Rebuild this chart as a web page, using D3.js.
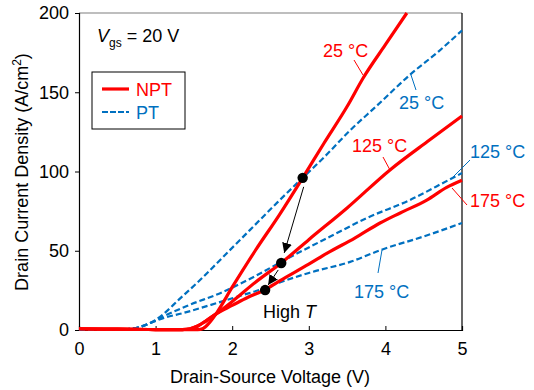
<!DOCTYPE html>
<html><head><meta charset="utf-8">
<script src="https://cdn.jsdelivr.net/npm/d3@7"></script>
<style>body{margin:0;background:#fff}svg{display:block;font-family:"Liberation Sans",Arial,sans-serif}</style>
</head><body><svg id="c" width="534" height="390"></svg>
<script>
const xTicks=[0,1,2,3,4,5];
const yTicks=[0,50,100,150,200];

const npt25V=[0,0.5,1.0,1.4,1.55,1.62,1.7,1.8,2.0,2.3,2.62,2.92,3.2,3.5,3.71,4.0,4.28];
const npt25I=[0.8,0.5,0.3,0.3,0.3,1,4.5,11,27,50,73,96,118,141,159,180,200];
const npt125V=[0,0.5,1.0,1.35,1.45,1.55,1.65,1.8,2.0,2.3,2.64,3.0,3.5,4.06,4.58,5.0];
const npt125I=[0.8,0.5,0.3,0.3,0.8,2.5,5.5,10.5,18,30,42.3,57,77,101,120,135];
const npt175V=[0,0.5,1.0,1.35,1.45,1.55,1.65,1.8,2.0,2.2,2.42,2.62,3.0,3.24,3.6,3.93,4.2,4.54,4.8,5.0];
const npt175I=[0.8,0.5,0.3,0.3,0.8,2.5,5.5,10.5,15.5,20.5,25.2,31,41.5,48.5,58,67.5,74,82,90,94.5];
const pt25V=[0,0.3,0.6,0.8,0.93,1.1,1.3,1.58,1.9,2.23,2.6,2.92,3.2,3.54,3.9,4.32,4.7,5.0];
const pt25I=[0,0,0.5,2,4.4,10,19,31.5,47,63,81,96,109,126,142,161,176,189];
const pt125V=[0,0.3,0.6,0.8,0.93,1.1,1.4,1.88,2.3,2.66,3.28,3.76,4.32,4.84,5.0];
const pt125I=[0,0,0.5,2,4.4,8.5,15,24,34,43.5,59,70.7,82,95,99];
const pt175V=[0,0.3,0.6,0.8,0.93,1.1,1.36,1.8,2.1,2.4,2.62,3.0,3.54,3.97,4.5,5.0];
const pt175I=[0,0,0.5,2,4.4,7.5,10.7,17,21.5,26,30,36,43,51,59,67.5];

const dotV=[2.92,2.64,2.43];
const dotI=[96,42.3,25.2];

const RED="#FF0000", BLUE="#0070C0";
const svg=d3.select("#c");
const x=d3.scaleLinear().domain([0,5]).range([79,462]);
const y=d3.scaleLinear().domain([0,200]).range([330,13]);

// frame
svg.append("line").attr("x1",79).attr("x2",462).attr("y1",13).attr("y2",13).attr("stroke","#7f7f7f").attr("stroke-width",1.2);
svg.append("line").attr("x1",462).attr("x2",462).attr("y1",13).attr("y2",330).attr("stroke","#000").attr("stroke-width",1.2);

const xa=svg.append("g").attr("transform","translate(0,330)")
 .call(d3.axisBottom(x).tickValues(xTicks).tickSize(-4).tickPadding(12).tickFormat(d3.format("d")));
const ya=svg.append("g").attr("transform","translate(79,0)")
 .call(d3.axisLeft(y).tickValues(yTicks).tickSize(4).tickPadding(6).tickFormat(d3.format("d")));
[xa,ya].forEach(a=>{a.select(".domain").attr("stroke","#000").attr("stroke-width",1.2);
 a.selectAll(".tick line").attr("stroke","#000");
 a.selectAll("text").attr("font-size",18).attr("fill","#000").attr("font-family","Liberation Sans, Arial, sans-serif");});
xa.selectAll(".tick").filter(d=>d===0||d===5).select("line").remove();

const line=d3.line().x(d=>x(d[0])).y(d=>y(d[1])).curve(d3.curveMonotoneX);
function series(V,I,color,dash,w){
 svg.append("path").datum(V.map((v,i)=>[v,I[i]])).attr("d",line).attr("fill","none")
  .attr("stroke",color).attr("stroke-width",w).attr("stroke-dasharray",dash)
  .attr("stroke-linejoin","round");
}
const plot=svg.append("g");
series(pt25V,pt25I,BLUE,"6,3",2.2);
series(pt125V,pt125I,BLUE,"6,3",2.2);
series(pt175V,pt175I,BLUE,"6,3",2.2);
series(npt125V,npt125I,RED,null,3.2);
series(npt175V,npt175I,RED,null,3.2);
series(npt25V,npt25I,RED,null,3.2);

// dots
svg.selectAll("circle.d").data(dotV).enter().append("circle")
 .attr("cx",(d,i)=>x(d)).attr("cy",(d,i)=>y(dotI[i])).attr("r",5.2).attr("fill","#000");

// arrows
const defs=svg.append("defs");
defs.append("marker").attr("id","ah").attr("viewBox","0 0 10 10").attr("refX",10).attr("refY",5)
 .attr("markerWidth",10).attr("markerHeight",10).attr("markerUnits","userSpaceOnUse").attr("orient","auto")
 .append("path").attr("d","M0,0 L10,5 L0,10 Z").attr("fill","#000");
function arrow(x1,y1,x2,y2){svg.append("line").attr("x1",x1).attr("y1",y1).attr("x2",x2).attr("y2",y2)
 .attr("stroke","#000").attr("stroke-width",1).attr("marker-end","url(#ah)");}
arrow(x(dotV[0])+1,y(dotI[0])+9,x(dotV[1])+3,y(dotI[1])-10);
arrow(x(dotV[1])-3,y(dotI[1])+7,x(dotV[2])+3,y(dotI[2])-5);

// label leaders
function leader(x1,y1,x2,y2,c){svg.append("line").attr("x1",x1).attr("y1",y1).attr("x2",x2).attr("y2",y2).attr("stroke",c).attr("stroke-width",1);}
function txt(s,tx,ty,c,anchor){return svg.append("text").attr("x",tx).attr("y",ty).attr("fill",c).attr("font-size",18).attr("text-anchor",anchor||"start").text(s);}
leader(354,60,363,75,RED); txt("25 °C",323,57,RED);
leader(411,75,416,90,BLUE); txt("25 °C",399,109,BLUE);
leader(383,157,390,170,RED); txt("125 °C",352,152,RED);
leader(452,178,470,160,BLUE); txt("125 °C",470,158,BLUE);
leader(452,188,467,205,RED); txt("175 °C",470,207,RED);
leader(382,250,378,273,BLUE); txt("175 °C",354,298,BLUE);

const ht=svg.append("text").attr("x",263).attr("y",318).attr("font-size",18).attr("fill","#000");
ht.append("tspan").text("High ");
ht.append("tspan").attr("font-style","italic").text("T");

const vg=svg.append("text").attr("x",97).attr("y",42).attr("font-size",18).attr("fill","#000");
vg.append("tspan").attr("font-style","italic").text("V");
vg.append("tspan").attr("font-size",12).attr("dy",5).text("gs");
vg.append("tspan").attr("dy",-5).text(" = 20 V");

// legend
svg.append("rect").attr("x",92).attr("y",72).attr("width",93).attr("height",57).attr("fill","#fff").attr("stroke","#000").attr("stroke-width",1);
svg.append("line").attr("x1",102).attr("x2",129).attr("y1",89).attr("y2",89).attr("stroke",RED).attr("stroke-width",3.2);
svg.append("line").attr("x1",102).attr("x2",129).attr("y1",112).attr("y2",112).attr("stroke",BLUE).attr("stroke-width",2).attr("stroke-dasharray","6,2");
txt("NPT",136,96,RED); txt("PT",136,119,BLUE);

// axis titles
svg.append("text").attr("x",270).attr("y",383).attr("text-anchor","middle").attr("font-size",18).attr("fill","#000").text("Drain-Source Voltage (V)");
const yt=svg.append("text").attr("transform","translate(28,172) rotate(-90)").attr("text-anchor","middle").attr("font-size",18).attr("fill","#000");
yt.append("tspan").text("Drain Current Density (A/cm");
yt.append("tspan").attr("font-size",12).attr("dy",-7).text("2");
yt.append("tspan").attr("dy",7).text(")");
</script></body></html>
